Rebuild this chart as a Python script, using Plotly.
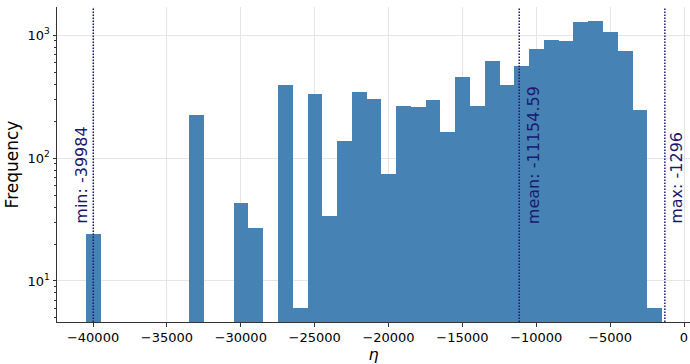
import plotly.graph_objects as go

# Histogram of eta: bin centres (bin width 1000) and counts per bin
bin_width = 1000
bin_centers = [-39984, -32984, -29984, -28984, -26984, -25984, -24984, -23984,
               -22984, -21984, -20984, -19984, -18984, -17984, -16984, -15984,
               -14984, -13984, -12984, -11984, -10984, -9984, -8984, -7984,
               -6984, -5984, -4984, -3984, -2984, -1984]
counts = [24, 226, 43, 27, 395, 6, 336, 34,
          138, 343, 306, 75, 265, 260, 299, 164,
          460, 267, 617, 393, 565, 769, 916, 894,
          1294, 1301, 1058, 740, 249, 6]

# Summary statistics marked on the chart
eta_min = -39984
eta_mean = -11154.59
eta_max = -1296

x_ticks = [-40000, -35000, -30000, -25000, -20000, -15000, -10000, -5000, 0]
x_ticktext = ["\u221240000", "\u221235000", "\u221230000", "\u221225000", "\u221220000",
              "\u221215000", "\u221210000", "\u22125000", "0"]
y_ticks = [10, 100, 1000]
y_ticktext = ["10<sup>1</sup>", "10<sup>2</sup>", "10<sup>3</sup>"]
y_minor = [5, 6, 7, 8, 9, 20, 30, 40, 50, 60, 70, 80, 90,
           200, 300, 400, 500, 600, 700, 800, 900]

BAR = "#4682b4"
MARK = "#191970"
AXIS = "#333333"
GRID = "#e5e5e5"
FONT = "DejaVu Sans"

fig = go.Figure()
fig.add_trace(go.Bar(
    x=bin_centers, y=counts, width=bin_width,
    marker=dict(color=BAR, line=dict(width=0)),
    showlegend=False,
))

# Vertical dotted markers for min / mean / max with rotated labels
markers = [
    (eta_min, f"min: {eta_min}", -12),
    (eta_mean, f"mean: {eta_mean}", 15),
    (eta_max, f"max: {eta_max}", 12),
]
for xv, label, shift in markers:
    fig.add_shape(type="line", xref="x", yref="paper", x0=xv, x1=xv, y0=0, y1=1,
                  line=dict(color=MARK, width=1.5, dash="1.5px,1.5px"), layer="above")
    fig.add_annotation(x=xv, xref="x", y=0.305, yref="paper", text=label,
                       textangle=-90, showarrow=False, xanchor="center", yanchor="bottom",
                       xshift=shift, font=dict(family=FONT, size=16, color=MARK))

fig.update_layout(
    width=690, height=364,
    margin=dict(l=57, r=0, t=7, b=42),
    paper_bgcolor="white", plot_bgcolor="white",
    font=dict(family=FONT, size=13, color="black"),
    bargap=0,
)
fig.update_xaxes(
    range=[-42440, 406],
    tickvals=x_ticks, ticktext=x_ticktext,
    showline=True, linecolor=AXIS, linewidth=1,
    ticks="outside", ticklen=3.5, tickwidth=1, tickcolor=AXIS,
    showgrid=True, gridcolor=GRID, gridwidth=1, zeroline=False,
    title=dict(text="<i>\u03b7</i>", font=dict(family=FONT, size=16), standoff=4),
)
fig.update_yaxes(
    type="log", range=[0.666, 3.231],
    tickvals=y_ticks, ticktext=y_ticktext,
    showline=True, linecolor=AXIS, linewidth=1,
    ticks="outside", ticklen=3.5, tickwidth=1, tickcolor=AXIS,
    minor=dict(tickvals=y_minor, ticks="outside", ticklen=2, tickwidth=0.8,
               tickcolor=AXIS, showgrid=False),
    showgrid=True, gridcolor=GRID, gridwidth=1, zeroline=False,
    title=dict(text="Frequency", font=dict(family=FONT, size=17), standoff=4),
)

fig.write_html("out.html")
